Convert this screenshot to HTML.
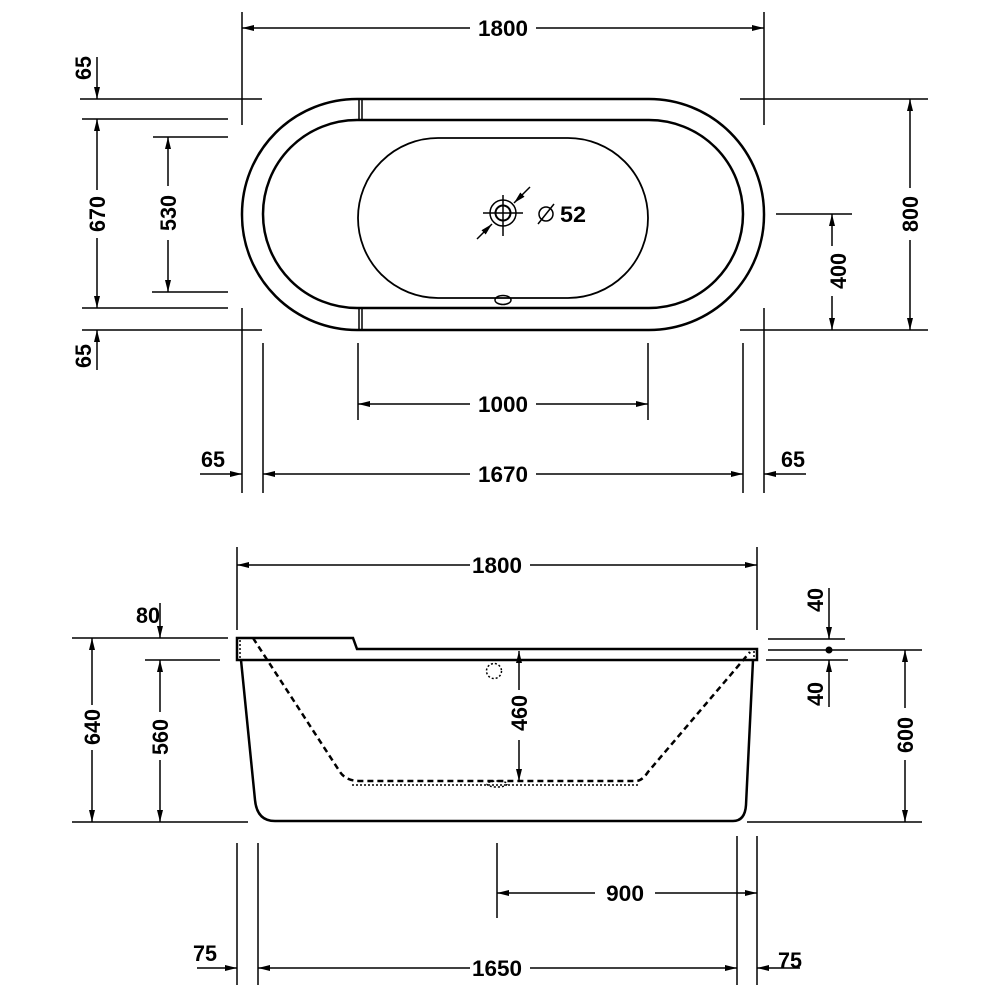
<!DOCTYPE html>
<html><head><meta charset="utf-8"><style>
html,body{margin:0;padding:0;background:#fff}
svg{display:block}
text{font-family:"Liberation Sans",sans-serif;font-weight:bold;font-size:22px;fill:#000}
</style></head><body>
<svg width="1000" height="1000" viewBox="0 0 1000 1000" xmlns="http://www.w3.org/2000/svg">
<defs>
<marker id="a" viewBox="0 0 12 6" refX="12" refY="3" markerWidth="12" markerHeight="6" markerUnits="userSpaceOnUse" orient="auto-start-reverse"><path d="M0,0 L12,3 L0,6 z" fill="#000"/></marker>
</defs>
<g stroke="#000" stroke-width="1.5" fill="none">
<rect x="242" y="99" width="522" height="231" rx="115" ry="115" stroke-width="2.5"/>
<rect x="263" y="120" width="480" height="188" rx="94" ry="94" stroke-width="2.5"/>
<rect x="358" y="138" width="290" height="160" rx="80" ry="80" stroke-width="1.8"/>
<line x1="359" y1="99" x2="359" y2="120"/><line x1="362" y1="99" x2="362" y2="120"/>
<line x1="359" y1="308" x2="359" y2="330"/><line x1="362" y1="308" x2="362" y2="330"/>
<circle cx="503" cy="213" r="13"/><circle cx="503" cy="213" r="7.5" stroke-width="2"/>
<line x1="483" y1="213" x2="523" y2="213"/><line x1="503" y1="195" x2="503" y2="236"/>
<line x1="477" y1="239" x2="492" y2="224" marker-end="url(#a)"/>
<line x1="530" y1="187" x2="514" y2="203" marker-end="url(#a)"/>
<ellipse cx="503" cy="300" rx="8" ry="4.5"/>
<line x1="242" y1="12" x2="242" y2="125"/><line x1="764" y1="12" x2="764" y2="125"/>
<line x1="242" y1="28" x2="470" y2="28" marker-start="url(#a)"/><line x1="536" y1="28" x2="764" y2="28" marker-end="url(#a)"/>
<line x1="80" y1="99" x2="262" y2="99"/><line x1="82" y1="119" x2="228" y2="119"/>
<line x1="153" y1="137" x2="228" y2="137"/><line x1="152" y1="292" x2="228" y2="292"/>
<line x1="82" y1="308" x2="228" y2="308"/><line x1="82" y1="330" x2="262" y2="330"/>
<line x1="97" y1="57" x2="97" y2="99" marker-end="url(#a)"/>
<line x1="97" y1="370" x2="97" y2="330" marker-end="url(#a)"/>
<line x1="97" y1="119" x2="97" y2="190" marker-start="url(#a)"/><line x1="97" y1="238" x2="97" y2="308" marker-end="url(#a)"/>
<line x1="168" y1="137" x2="168" y2="186" marker-start="url(#a)"/><line x1="168" y1="240" x2="168" y2="292" marker-end="url(#a)"/>
<line x1="740" y1="99" x2="928" y2="99"/><line x1="740" y1="330" x2="928" y2="330"/>
<line x1="776" y1="214" x2="852" y2="214"/>
<line x1="910" y1="99" x2="910" y2="188" marker-start="url(#a)"/><line x1="910" y1="240" x2="910" y2="330" marker-end="url(#a)"/>
<line x1="832" y1="214" x2="832" y2="246" marker-start="url(#a)"/><line x1="832" y1="296" x2="832" y2="330" marker-end="url(#a)"/>
<line x1="242" y1="308" x2="242" y2="493"/><line x1="764" y1="308" x2="764" y2="493"/>
<line x1="263" y1="343" x2="263" y2="493"/><line x1="743" y1="343" x2="743" y2="493"/>
<line x1="358" y1="343" x2="358" y2="420"/><line x1="648" y1="343" x2="648" y2="420"/>
<line x1="358" y1="404" x2="470" y2="404" marker-start="url(#a)"/><line x1="536" y1="404" x2="648" y2="404" marker-end="url(#a)"/>
<line x1="263" y1="474" x2="470" y2="474" marker-start="url(#a)"/><line x1="536" y1="474" x2="743" y2="474" marker-end="url(#a)"/>
<line x1="200" y1="474" x2="242" y2="474" marker-end="url(#a)"/>
<line x1="806" y1="474" x2="764" y2="474" marker-end="url(#a)"/>
<path d="M237,638 L353,638 L357,649 L757,649 L757,660 L237,660 Z" stroke-width="2.5"/>
<path d="M241,660 L255,800 Q257,821 275,821 L733,821 Q745,821 746,805 L753,660" stroke-width="2.5"/>
<path d="M253,638 L340,772 Q346,781 360,781 L636,781 Q642,781 648,772 L750,652" stroke-width="2.5" stroke-dasharray="6,4"/>
<line x1="352" y1="785" x2="638" y2="785" stroke-dasharray="2,2"/>
<line x1="240" y1="640" x2="240" y2="659" stroke-dasharray="2,2"/>
<line x1="754" y1="651" x2="754" y2="659" stroke-dasharray="2,2"/>
<circle cx="494" cy="671" r="7.5" stroke-dasharray="2,2"/>
<ellipse cx="497" cy="784" rx="10" ry="3" stroke-dasharray="2,2"/>
<line x1="519" y1="651" x2="519" y2="690" marker-start="url(#a)"/><line x1="519" y1="740" x2="519" y2="781" marker-end="url(#a)"/>
<line x1="237" y1="547" x2="237" y2="630"/><line x1="757" y1="547" x2="757" y2="630"/>
<line x1="237" y1="565" x2="470" y2="565" marker-start="url(#a)"/><line x1="530" y1="565" x2="757" y2="565" marker-end="url(#a)"/>
<line x1="72" y1="638" x2="228" y2="638"/><line x1="145" y1="660" x2="220" y2="660"/>
<line x1="72" y1="822" x2="248" y2="822"/>
<line x1="92" y1="638" x2="92" y2="705" marker-start="url(#a)"/><line x1="92" y1="750" x2="92" y2="822" marker-end="url(#a)"/>
<line x1="160" y1="660" x2="160" y2="712" marker-start="url(#a)"/><line x1="160" y1="760" x2="160" y2="822" marker-end="url(#a)"/>
<line x1="160" y1="603" x2="160" y2="638" marker-end="url(#a)"/>
<line x1="768" y1="639" x2="845" y2="639"/><line x1="768" y1="650" x2="922" y2="650"/><line x1="766" y1="660" x2="848" y2="660"/>
<line x1="747" y1="822" x2="922" y2="822"/>
<line x1="829" y1="588" x2="829" y2="639" marker-end="url(#a)"/>
<line x1="829" y1="707" x2="829" y2="660" marker-end="url(#a)"/>
<line x1="905" y1="650" x2="905" y2="708" marker-start="url(#a)"/><line x1="905" y1="760" x2="905" y2="822" marker-end="url(#a)"/>
<line x1="237" y1="843" x2="237" y2="985"/><line x1="258" y1="843" x2="258" y2="985"/>
<line x1="737" y1="836" x2="737" y2="985"/><line x1="757" y1="836" x2="757" y2="985"/>
<line x1="497" y1="843" x2="497" y2="918"/>
<line x1="497" y1="893" x2="595" y2="893" marker-start="url(#a)"/><line x1="655" y1="893" x2="757" y2="893" marker-end="url(#a)"/>
<line x1="258" y1="968" x2="470" y2="968" marker-start="url(#a)"/><line x1="530" y1="968" x2="737" y2="968" marker-end="url(#a)"/>
<line x1="197" y1="968" x2="237" y2="968" marker-end="url(#a)"/>
<line x1="800" y1="968" x2="757" y2="968" marker-end="url(#a)"/>
<circle cx="546" cy="214" r="7"/><line x1="538" y1="224" x2="554" y2="204"/>
</g>
<circle cx="829" cy="650" r="3.5" fill="#000"/>
<g>
<text x="503" y="36" text-anchor="middle" textLength="50" lengthAdjust="spacingAndGlyphs">1800</text>
<text x="503" y="412" text-anchor="middle" textLength="50" lengthAdjust="spacingAndGlyphs">1000</text>
<text x="503" y="482" text-anchor="middle" textLength="50" lengthAdjust="spacingAndGlyphs">1670</text>
<text x="213" y="467" text-anchor="middle" textLength="24" lengthAdjust="spacingAndGlyphs">65</text>
<text x="793" y="467" text-anchor="middle" textLength="24" lengthAdjust="spacingAndGlyphs">65</text>
<text x="560" y="222" textLength="26" lengthAdjust="spacingAndGlyphs">52</text>
<text transform="translate(91,68) rotate(-90)" text-anchor="middle" textLength="24" lengthAdjust="spacingAndGlyphs">65</text>
<text transform="translate(91,356) rotate(-90)" text-anchor="middle" textLength="24" lengthAdjust="spacingAndGlyphs">65</text>
<text transform="translate(105,214) rotate(-90)" text-anchor="middle" textLength="36" lengthAdjust="spacingAndGlyphs">670</text>
<text transform="translate(176,213) rotate(-90)" text-anchor="middle" textLength="36" lengthAdjust="spacingAndGlyphs">530</text>
<text transform="translate(918,214) rotate(-90)" text-anchor="middle" textLength="36" lengthAdjust="spacingAndGlyphs">800</text>
<text transform="translate(846,271) rotate(-90)" text-anchor="middle" textLength="36" lengthAdjust="spacingAndGlyphs">400</text>
<text x="497" y="573" text-anchor="middle" textLength="50" lengthAdjust="spacingAndGlyphs">1800</text>
<text x="625" y="901" text-anchor="middle" textLength="38" lengthAdjust="spacingAndGlyphs">900</text>
<text x="497" y="976" text-anchor="middle" textLength="50" lengthAdjust="spacingAndGlyphs">1650</text>
<text x="205" y="961" text-anchor="middle" textLength="24" lengthAdjust="spacingAndGlyphs">75</text>
<text x="790" y="968" text-anchor="middle" textLength="24" lengthAdjust="spacingAndGlyphs">75</text>
<text x="148" y="623" text-anchor="middle" textLength="24" lengthAdjust="spacingAndGlyphs">80</text>
<text transform="translate(527,713) rotate(-90)" text-anchor="middle" textLength="36" lengthAdjust="spacingAndGlyphs">460</text>
<text transform="translate(100,727) rotate(-90)" text-anchor="middle" textLength="36" lengthAdjust="spacingAndGlyphs">640</text>
<text transform="translate(168,737) rotate(-90)" text-anchor="middle" textLength="36" lengthAdjust="spacingAndGlyphs">560</text>
<text transform="translate(913,735) rotate(-90)" text-anchor="middle" textLength="36" lengthAdjust="spacingAndGlyphs">600</text>
<text transform="translate(823,600) rotate(-90)" text-anchor="middle" textLength="24" lengthAdjust="spacingAndGlyphs">40</text>
<text transform="translate(823,694) rotate(-90)" text-anchor="middle" textLength="24" lengthAdjust="spacingAndGlyphs">40</text>
</g>
</svg>
</body></html>
